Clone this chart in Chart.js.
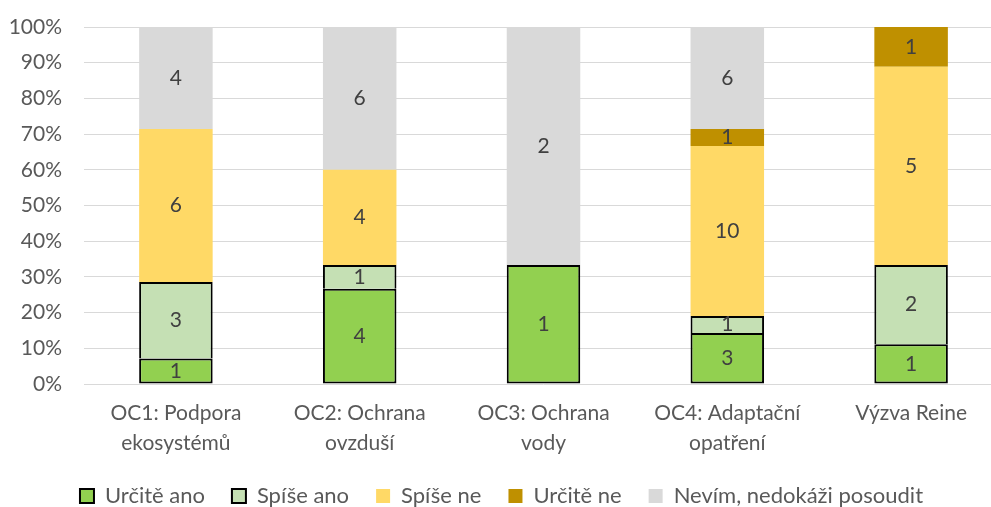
<!DOCTYPE html>
<html>
<head>
<meta charset="utf-8">
<script src="https://cdn.jsdelivr.net/npm/chart.js@4"></script>
<style>
  html, body { margin: 0; padding: 0; background: #fff; overflow: hidden; }
  #wrap { width: 991px; height: 507px; overflow: hidden; }
</style>
</head>
<body>
<div id="wrap"><canvas id="chart" width="1010" height="507"></canvas></div>
<script>
const categories = [
  ['OC1: Podpora', 'ekosystémů'],
  ['OC2: Ochrana', 'ovzduší'],
  ['OC3: Ochrana', 'vody'],
  ['OC4: Adaptační', 'opatření'],
  'Výzva Reine'
];
const seriesNames = ['Určitě ano', 'Spíše ano', 'Spíše ne', 'Určitě ne', 'Nevím, nedokáži posoudit'];
const urciteAno = [1, 4, 1, 3, 1];
const spiseAno = [3, 1, 0, 1, 2];
const spiseNe = [6, 4, 0, 10, 5];
const urciteNe = [0, 0, 0, 1, 1];
const nevim = [4, 6, 2, 6, 0];
const yTicks = [0, 10, 20, 30, 40, 50, 60, 70, 80, 90, 100];

const counts = [urciteAno, spiseAno, spiseNe, urciteNe, nevim];
const colors = ['#92D050', '#C5E0B4', '#FFD966', '#BF9000', '#D9D9D9'];
const totals = categories.map((c, i) => counts.reduce((s, arr) => s + arr[i], 0));

const FONT = 'Lato, "Open Sans", sans-serif';

const datasets = counts.map((arr, k) => ({
  label: seriesNames[k],
  counts: arr,
  data: arr.map((v, i) => v / totals[i] * 100),
  backgroundColor: colors[k],
  borderColor: k < 2 ? '#000' : colors[k],
  borderWidth: k < 2 ? 2 : 0,
  borderSkipped: k === 1 ? 'bottom' : false,
  barPercentage: 0.4,
  categoryPercentage: 1
}));

const countLabels = {
  id: 'countLabels',
  afterDatasetsDraw(chart) {
    const ctx = chart.ctx;
    ctx.save();
    ctx.font = '21px ' + FONT;
    ctx.fillStyle = '#404040';
    ctx.textAlign = 'center';
    ctx.textBaseline = 'middle';
    chart.data.datasets.forEach((ds, k) => {
      chart.getDatasetMeta(k).data.forEach((bar, i) => {
        const v = ds.counts[i];
        if (!v) return;
        ctx.fillText(String(v), bar.x, (bar.y + bar.base) / 2);
      });
    });
    ctx.restore();
  }
};

new Chart(document.getElementById('chart'), {
  type: 'bar',
  data: { labels: categories, datasets: datasets },
  plugins: [countLabels],
  options: {
    responsive: false,
    animation: false,
    layout: { padding: { top: 27, left: 0, right: 7, bottom: 0 } },
    plugins: {
      tooltip: { enabled: false },
      legend: {
        position: 'bottom',
        maxHeight: 49,
        labels: {
          color: '#595959',
          font: { family: FONT, size: 22 },
          boxWidth: 14,
          boxHeight: 14,
          padding: 27
        }
      }
    },
    scales: {
      x: {
        stacked: true,
        afterFit(scale) { scale.height = 74; },
        grid: { display: false },
        border: { display: false },
        ticks: {
          color: '#595959',
          font: { family: FONT, size: 21, lineHeight: 1.43 },
          padding: 6,
          maxRotation: 0
        }
      },
      y: {
        stacked: true,
        min: 0,
        max: 100,
        afterFit(scale) {
          scale.width = 84;
          scale.paddingTop = 0;
          scale.paddingBottom = 0;
        },
        afterBuildTicks(scale) { scale.ticks = yTicks.map(v => ({ value: v })); },
        grid: { color: '#D9D9D9', lineWidth: 1, drawTicks: false },
        border: { display: false },
        ticks: {
          color: '#595959',
          font: { family: FONT, size: 21 },
          padding: 22,
          callback: v => v + '%'
        }
      }
    }
  }
});
</script>
</body>
</html>
